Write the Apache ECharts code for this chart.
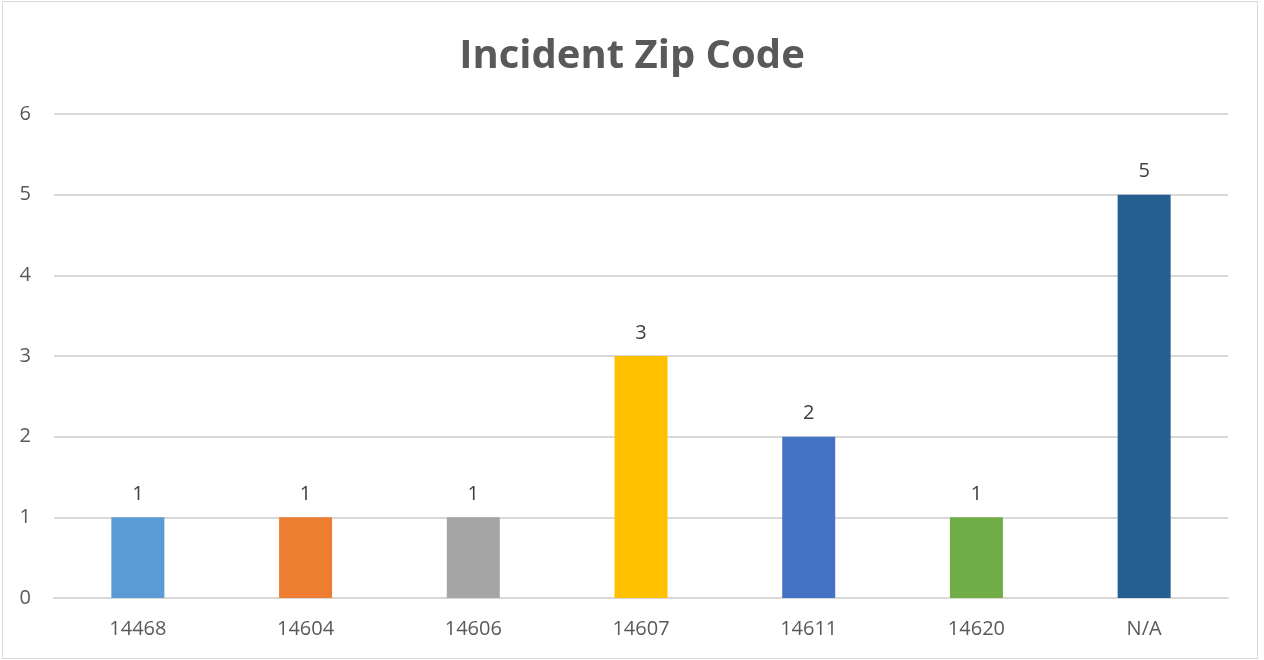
<!DOCTYPE html>
<html>
<head>
<meta charset="utf-8">
<script src="https://cdn.jsdelivr.net/npm/echarts@6/dist/echarts.min.js"></script>
<style>
  html, body { margin: 0; padding: 0; background: #fff; }
  #frame { position: absolute; left: 2px; top: 1px; width: 1254px; height: 656px; border: 1px solid #d9d9d9; }
  #chart { position: absolute; left: 0; top: 0; width: 1264px; height: 660px; }
</style>
</head>
<body>
<div id="frame"></div>
<div id="chart"></div>
<script>
const zipCodes = ["14468", "14604", "14606", "14607", "14611", "14620", "N/A"];
const incidentCounts = [1, 1, 1, 3, 2, 1, 5];
const barColors = ["#5B9BD5", "#ED7D31", "#A5A5A5", "#FFC000", "#4472C4", "#70AD47", "#255E91"];

const chart = echarts.init(document.getElementById("chart"));
chart.setOption({
  animation: false,
  textStyle: { fontFamily: "Open Sans" },
  title: {
    text: "Incident Zip Code",
    left: "center",
    top: 32,
    textStyle: { fontFamily: "Open Sans", fontSize: 40, fontWeight: "bold", color: "#595959" }
  },
  grid: { left: 54, right: 36, top: 114, bottom: 62, containLabel: false },
  xAxis: {
    type: "category",
    data: zipCodes,
    axisLine: { lineStyle: { color: "#d9d9d9", width: 2 } },
    axisTick: { show: false },
    axisLabel: { color: "#595959", fontSize: 20, margin: 21 }
  },
  yAxis: {
    type: "value",
    min: 0,
    max: 6,
    interval: 1,
    axisLine: { show: false },
    axisTick: { show: false },
    axisLabel: { color: "#595959", fontSize: 20, margin: 23 },
    splitLine: { lineStyle: { color: "#d9d9d9", width: 2 } }
  },
  series: [{
    type: "bar",
    data: incidentCounts.map((v, i) => ({ value: v, itemStyle: { color: barColors[i] } })),
    barWidth: 53,
    label: { show: true, position: "top", color: "#404040", fontSize: 20, distance: 13 }
  }]
});
</script>
</body>
</html>
